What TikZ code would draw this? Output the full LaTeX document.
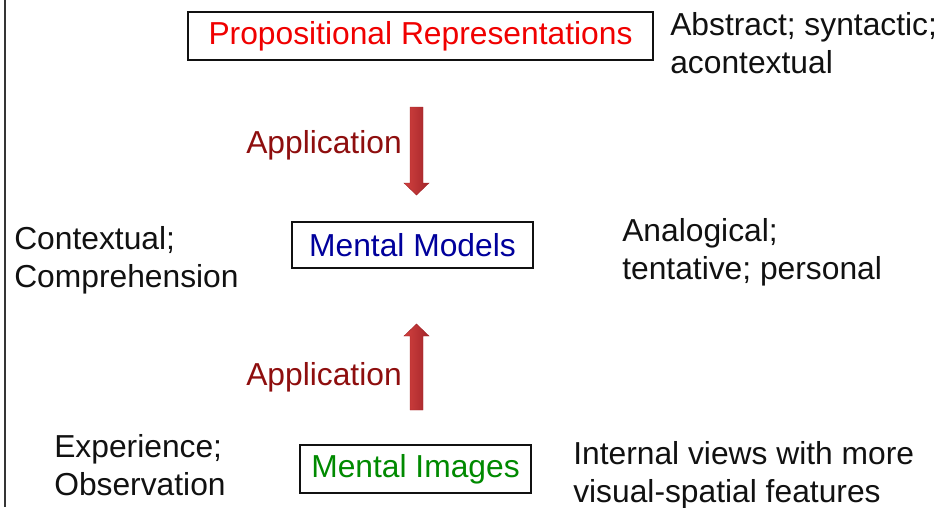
\documentclass[tikz,border=0pt]{standalone}
\usepackage{fontspec}
\setmainfont{Liberation Sans}
\usepackage{tikz}
\usetikzlibrary{positioning,calc}
\definecolor{propred}{HTML}{F00000}
\definecolor{modelblue}{HTML}{00009C}
\definecolor{imggreen}{HTML}{008A00}
\definecolor{appred}{HTML}{8E0E0E}
\definecolor{arrowdark}{HTML}{A3262A}
\definecolor{arrowmid}{HTML}{D2403F}
\definecolor{arrowlight}{HTML}{E25C5C}
\definecolor{ink}{HTML}{111111}
\tikzset{
  level/.style={draw=ink,line width=1.4pt,fill=white,inner sep=0pt,
    minimum height=#1*0.025cm,font=\fontsize{22.6}{27}\selectfont},
  level/.default=48,
  side/.style={font=\fontsize{22.6}{27}\selectfont,text=ink,align=left,inner sep=0pt,anchor=west},
  applab/.style={font=\fontsize{22.6}{27}\selectfont,text=appred,inner sep=0pt,anchor=east},
  blockfill/.style={left color=arrowmid,middle color=arrowlight,right color=arrowdark,draw=arrowdark,line width=0.3pt},
}

\begin{document}
\begin{tikzpicture}[x=0.025cm,y=-0.025cm]
  \useasboundingbox (0,0) rectangle (940,507);
  % frame edge on the left
  \coordinate (etop) at (5,0);
  \coordinate (ebot) at (5,507);
  \draw[ink!85,line width=1.5pt] (etop) -- (ebot);
  % levels
  \node[level,minimum width=465*0.025cm,text=propred] (prop) at (420.5,36) {Propositional Representations};
  \node[level=46,minimum width=241*0.025cm,text=modelblue] (models) at (412.5,245) {Mental Models};
  \node[level,minimum width=231*0.025cm,text=imggreen] (images) at (415.5,469) {Mental Images};
  % notes beside the levels
  \node[side] (propnote) at (670,43) {Abstract; syntactic;\\acontextual};
  \node[side] (ctxnote) at (14,260) {Contextual;\\Comprehension};
  \node[side] (modnote) at (622,252) {Analogical;\\tentative; personal};
  \node[side] (expnote) at (54,465) {Experience;\\Observation};
  \node[side] (imgnote) at (573,475) {Internal views with more\\visual-spatial features};
  % block arrows
  \coordinate (down) at (416.5,107);
  \coordinate (up) at (416.5,410);
  \shade[blockfill] (down) ++(-6.5,0) -- ++(13,0) -- ++(0,76) -- ++(6,0) -- ++(-12.5,12) -- ++(-12.5,-12) -- ++(6,0) -- cycle;
  \shade[blockfill] (up) ++(-6.5,0) -- ++(13,0) -- ++(0,-74) -- ++(6,0) -- ++(-12.5,-12) -- ++(-12.5,12) -- ++(6,0) -- cycle;
  \node[applab] (app1) at (402,145) {Application};
  \node[applab] (app2) at (402,377) {Application};
\end{tikzpicture}
\end{document}
